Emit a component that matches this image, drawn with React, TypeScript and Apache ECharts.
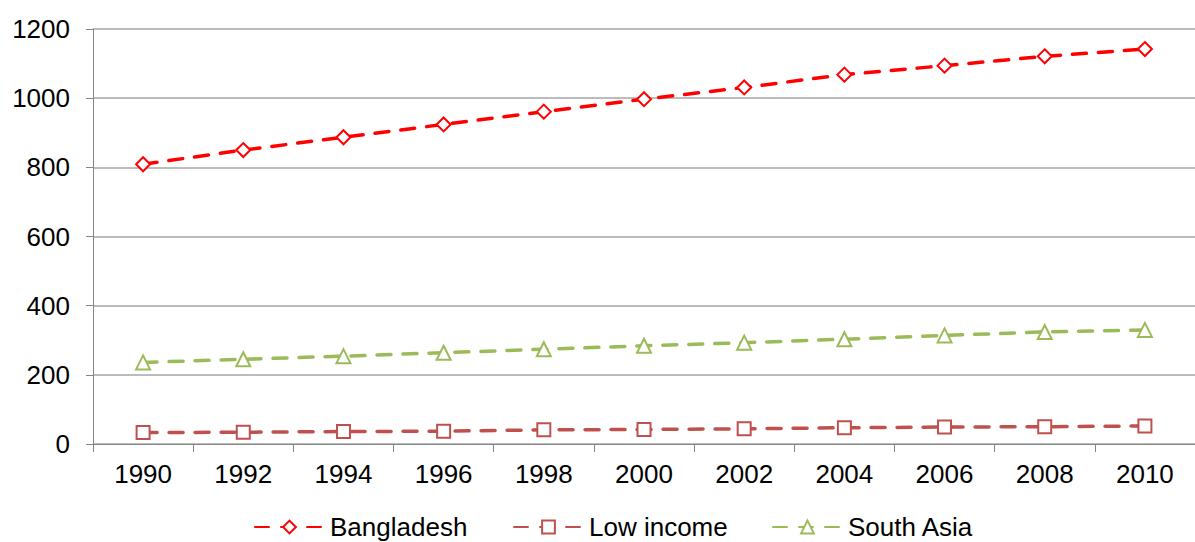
import React, { useEffect, useRef } from "react";
import * as echarts from "echarts";

const years = ["1990", "1992", "1994", "1996", "1998", "2000", "2002", "2004", "2006", "2008", "2010"];
const bangladesh = [809, 850, 887, 924, 961, 997, 1031, 1068, 1094, 1121, 1142];
const lowIncome = [33, 34, 36, 37, 41, 42, 44, 47, 49, 50, 52];
const southAsia = [236, 245, 254, 264, 274, 284, 293, 303, 314, 324, 330];
const seriesNames = ["Bangladesh", "Low income", "South Asia"];

const FONT = "Liberation Sans, Arial, sans-serif";

export default function App() {
  const ref = useRef<HTMLDivElement>(null);
  useEffect(() => {
    if (!ref.current) return;
    const chart = echarts.init(ref.current, undefined, { renderer: "svg" });
    const mk = (name: string, data: number[], color: string, symbol: string, size: number) => ({
      name,
      type: "line",
      data,
      symbol,
      symbolSize: size,
      showAllSymbol: true,
      lineStyle: { color, width: 3.5, type: [14, 12], cap: "round" },
      itemStyle: { color: "#ffffff", borderColor: color, borderWidth: 2 },
      emphasis: { disabled: true },
    });
    const legendLefts = [249, 508, 767];
    const legends = seriesNames.map((n, i) => ({
      left: legendLefts[i],
      top: 509,
      itemWidth: 69,
      itemHeight: 16,
      itemGap: 0,
      selectedMode: false,
      textStyle: { color: "#000", fontSize: 26, fontFamily: FONT, padding: [0, 0, 0, 1] },
      data: [n],
    }));
    chart.setOption({
      animation: false,
      textStyle: { fontFamily: FONT },
      grid: { left: 93, top: 29, right: -11, bottom: 98, containLabel: false },
      legend: legends,
      xAxis: {
        type: "category",
        data: years,
        boundaryGap: true,
        axisLine: { lineStyle: { color: "#868686", width: 1 } },
        axisTick: { show: true, length: 8, lineStyle: { color: "#868686" } },
        axisLabel: { color: "#000", fontSize: 26, fontFamily: FONT, margin: 17 },
        splitLine: { show: false },
      },
      yAxis: {
        type: "value",
        min: 0,
        max: 1200,
        interval: 200,
        axisLine: { show: true, lineStyle: { color: "#868686", width: 1 } },
        axisTick: { show: true, length: 7, lineStyle: { color: "#868686" } },
        axisLabel: {
          color: "#000",
          fontSize: 26,
          fontFamily: FONT,
          margin: 23,
          formatter: (v: number) => String(v),
        },
        splitLine: { show: true, lineStyle: { color: "#A6A6A6", width: 1.5 } },
      },
      series: [
        mk("Bangladesh", bangladesh, "#FF0000", "diamond", 14),
        mk("Low income", lowIncome, "#C0504D", "rect", 13),
        mk("South Asia", southAsia, "#9BBB59", "triangle", 14),
      ],
    });
    return () => chart.dispose();
  }, []);
  return (
    <div
      ref={ref}
      style={{ position: "fixed", left: 0, top: 0, width: 1195, height: 542, background: "#fff" }}
    />
  );
}
